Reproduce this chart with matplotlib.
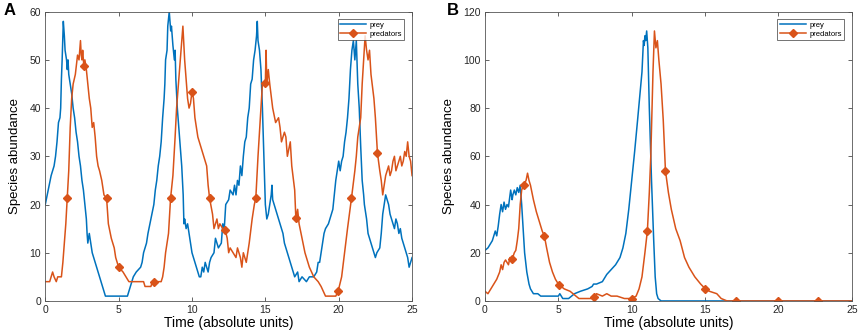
import numpy as np
import matplotlib.pyplot as plt

plt.rcParams['font.family'] = ['Liberation Sans', 'DejaVu Sans']

# ---- panel A data ----
a_prey_t = [0, 0.2, 0.4, 0.6, 0.7, 0.8, 0.9, 1.0, 1.05, 1.1, 1.15, 1.23, 1.3, 1.35, 1.45, 1.5, 1.55, 1.6,
            1.7, 1.8, 1.9, 2.0, 2.1, 2.2, 2.3, 2.4, 2.5, 2.6, 2.7, 2.8, 2.85, 2.9, 3.0, 3.1, 3.2, 3.3,
            3.4, 3.5, 3.6, 3.7, 3.8, 3.9, 4.0, 4.1, 5.6, 5.7, 5.8, 5.9, 6.0, 6.2, 6.5, 6.6, 6.7, 6.9,
            7.0, 7.2, 7.4, 7.5, 7.6, 7.7, 7.8, 7.9, 8.0, 8.1, 8.15, 8.2, 8.3, 8.35, 8.45, 8.5, 8.55,
            8.6, 8.7, 8.8, 8.85, 8.9, 9.0, 9.1, 9.2, 9.3, 9.4, 9.45, 9.5, 9.6, 9.7, 9.8, 9.9, 10.0,
            10.1, 10.2, 10.3, 10.4, 10.5, 10.6, 10.7, 10.8, 10.9, 11.0, 11.1, 11.2, 11.3, 11.5, 11.6,
            11.7, 11.8, 12.0, 12.1, 12.2, 12.3, 12.5, 12.6, 12.8, 12.9, 13.0, 13.1, 13.2, 13.3, 13.4,
            13.5, 13.6, 13.7, 13.8, 13.9, 14.0, 14.1, 14.2, 14.3, 14.4, 14.45, 14.5, 14.6, 14.7, 14.8,
            14.9, 15.0, 15.1, 15.2, 15.3, 15.4, 15.45, 15.5, 15.6, 15.7, 15.8, 16.0, 16.1, 16.2, 16.3,
            16.4, 16.5, 16.6, 16.7, 16.8, 16.9, 17.0, 17.2, 17.3, 17.5, 17.8, 18.0, 18.3, 18.5, 18.6,
            18.7, 18.8, 18.9, 19.0, 19.1, 19.3, 19.5, 19.6, 19.7, 19.8, 19.9, 20.0, 20.1, 20.2, 20.3,
            20.4, 20.5, 20.6, 20.7, 20.8, 20.9, 21.0, 21.1, 21.2, 21.3, 21.4, 21.5, 21.6, 21.7, 21.75,
            21.9, 22.0, 22.1, 22.2, 22.4, 22.5, 22.6, 22.8, 22.9, 23.0, 23.1, 23.2, 23.3, 23.4, 23.5,
            23.6, 23.7, 23.8, 23.9, 24.0, 24.1, 24.2, 24.3, 24.4, 24.5, 24.6, 24.7, 24.8, 24.9, 25.0]
a_prey_y = [20, 23, 26, 28, 30, 33, 37, 38, 40, 46, 50, 58, 55, 52, 50, 48, 50, 47,
            45, 43, 40, 38, 35, 33, 30, 28, 25, 23, 20, 17, 14, 12, 14, 12, 10, 9,
            8, 7, 6, 5, 4, 3, 2, 1, 1, 2, 3, 4, 5, 6, 7, 8, 10, 12,
            14, 17, 20, 23, 25, 28, 30, 33, 38, 42, 45, 50, 52, 57, 60, 58, 56,
            57, 53, 50, 52, 46, 40, 36, 32, 28, 22, 16, 17, 15, 16, 14, 12, 10,
            9, 8, 7, 6, 5, 5, 7, 6, 8, 7, 6, 8, 9, 10, 13,
            12, 11, 12, 16, 15, 20, 21, 23, 22, 24, 22, 25, 24, 28, 26,
            30, 33, 34, 38, 40, 45, 46, 50, 52, 55, 58, 54, 52, 48, 40,
            30, 20, 17, 18, 20, 22, 24, 21, 20, 19, 18, 16, 15, 14, 12,
            11, 10, 9, 8, 7, 6, 5, 6, 4, 5, 4, 5, 5, 6, 8,
            8, 10, 12, 14, 15, 16, 18, 19, 22, 25, 27, 29, 27, 29, 30,
            33, 35, 38, 42, 48, 52, 54, 50, 54, 45, 40, 32, 25, 22, 20,
            17, 14, 13, 12, 10, 9, 10, 11, 14, 18, 20, 22, 21, 20, 18,
            17, 16, 15, 17, 16, 14, 15, 13, 12, 11, 10, 9, 7, 8, 9]

a_pred_t = [0, 0.3, 0.4, 0.5, 0.6, 0.75, 0.85, 0.9, 1.1, 1.2, 1.3, 1.4, 1.5, 1.6, 1.7, 1.8, 1.9,
            2.05, 2.2, 2.3, 2.4, 2.45, 2.5, 2.55, 2.63, 2.7, 2.8, 2.9, 3.0, 3.1, 3.2, 3.3, 3.4, 3.5,
            3.6, 3.7, 3.85, 4.0, 4.18, 4.3, 4.5, 4.7, 4.8, 5.0, 5.3, 5.5, 5.7, 6.0, 6.7, 6.8, 7.2,
            7.3, 7.43, 7.7, 7.9, 8.0, 8.1, 8.2, 8.3, 8.4, 8.54, 8.7, 8.85, 8.95, 9.1, 9.2, 9.38, 9.5,
            9.6, 9.7, 9.8, 9.9, 10.0, 10.1, 10.2, 10.4, 10.6, 10.8, 11.0, 11.1, 11.2, 11.4, 11.5,
            11.7, 11.8, 11.9, 12.1, 12.26, 12.4, 12.5, 12.6, 12.8, 13.0, 13.1, 13.3, 13.4, 13.5,
            13.7, 13.9, 14.1, 14.25, 14.35, 14.5, 14.7, 14.8, 15.0, 15.05, 15.1, 15.2, 15.3, 15.5,
            15.7, 15.9, 16.0, 16.1, 16.3, 16.4, 16.5, 16.7, 16.8, 17.0, 17.08, 17.2, 17.3, 17.5,
            17.7, 18.0, 18.3, 18.6, 18.8, 19.1, 19.8, 19.96, 20.2, 20.4, 20.6, 20.87, 21.1, 21.2,
            21.3, 21.5, 21.6, 21.8, 21.9, 22.0, 22.1, 22.2, 22.4, 22.5, 22.64, 22.8, 22.9, 23.0,
            23.1, 23.2, 23.3, 23.4, 23.5, 23.6, 23.7, 23.8, 23.9, 24.0, 24.1, 24.2, 24.3, 24.4,
            24.5, 24.6, 24.7, 24.8, 24.9, 25.0]
a_pred_y = [4, 4, 5, 6, 5, 4, 5, 5, 5, 8, 12, 16, 21.3, 27, 36, 42, 45,
            47, 51, 50, 54, 51, 50, 52, 48.7, 50, 48, 45, 42, 40, 36, 37, 34, 30,
            28, 27, 25, 22, 21.3, 16, 13, 11, 9, 7, 6, 5, 4, 4, 4, 3, 3,
            4, 4, 4, 4, 5, 7, 10, 12, 14, 21.3, 26, 34, 40, 46, 50, 57, 50,
            46, 42, 40, 41, 43.4, 42, 38, 34, 32, 30, 28, 24, 21.3, 18, 15,
            17, 15, 16, 15, 14.8, 13, 10, 11, 10, 9, 11, 9, 7, 10,
            8, 12, 17, 20, 21.3, 30, 40, 45, 45.3, 52, 45, 48, 45, 40,
            37, 38, 36, 33, 35, 34, 30, 33, 28, 23, 17.1, 19, 16, 13,
            10, 7, 5, 4, 3, 1, 1, 2, 5, 10, 15, 21.3, 27, 30,
            34, 38, 45, 55, 52, 50, 52, 47, 42, 38, 30.7, 27, 25, 22,
            24, 26, 27, 28, 26, 27, 29, 30, 27, 28, 29, 30, 28, 29,
            31, 30, 33, 30, 29, 26]
a_marks = [1.5, 2.63, 4.18, 5.0, 7.43, 8.54, 10.0, 11.2, 12.26, 14.35, 15.0, 17.08, 19.96, 20.87, 22.64]

# ---- panel B data ----
b_prey_t = [0, 0.2, 0.3, 0.5, 0.6, 0.7, 0.8, 0.9, 1.0, 1.1, 1.2, 1.3, 1.4, 1.5, 1.6, 1.75, 1.85,
            1.9, 2.0, 2.1, 2.2, 2.3, 2.4, 2.5, 2.6, 2.7, 2.85, 3.0, 3.1, 3.3, 3.6, 3.8, 5.0, 5.1,
            5.3, 5.7, 5.9, 6.1, 6.5, 7.0, 7.3, 7.4, 7.6, 8.0, 8.2, 8.3, 8.6, 8.9, 9.2, 9.4, 9.6,
            9.8, 10.0, 10.2, 10.4, 10.55, 10.7, 10.8, 10.85, 10.9, 10.95, 11.02, 11.1, 11.2, 11.35,
            11.5, 11.6, 11.7, 11.8, 12.0, 25.0]
b_prey_y = [21, 22, 23, 25, 27, 29, 27, 31, 36, 40, 37, 41, 38, 40, 39, 46, 42,
            44, 46, 44, 47, 45, 48, 40, 30, 20, 12, 7, 5, 3, 3, 2, 2, 3,
            1, 1, 2, 3, 4, 5, 6, 7, 7, 8, 10, 11, 13, 15, 18, 22, 28,
            38, 50, 62, 75, 85, 95, 108, 106, 110, 108, 112, 105, 80, 50,
            25, 10, 3, 1, 0, 0]

b_pred_t = [0, 0.2, 0.4, 0.6, 0.8, 1.0, 1.1, 1.2, 1.3, 1.4, 1.6, 1.7, 1.84, 2.0, 2.1, 2.2, 2.3,
            2.4, 2.5, 2.64, 2.8, 2.9, 3.0, 3.1, 3.3, 3.5, 3.7, 3.9, 4.05, 4.2, 4.4, 4.6, 4.8, 5.02,
            5.4, 5.8, 6.0, 6.2, 6.4, 7.3, 7.45, 7.6, 8.0, 8.3, 8.6, 9.0, 9.5, 10.0, 10.3, 10.5,
            10.7, 10.9, 11.07, 11.2, 11.3, 11.45, 11.55, 11.65, 11.75, 11.85, 12.0, 12.15, 12.3,
            12.5, 12.7, 13.0, 13.3, 13.6, 13.9, 14.3, 14.7, 15.02, 15.3, 15.8, 16.1, 16.5, 17.1,
            20.0, 22.68, 25.0]
b_pred_y = [4, 3, 5, 7, 9, 12, 15, 13, 16, 17, 15, 18, 17.2, 20, 21, 25, 30,
            40, 46, 48.3, 50, 53, 50, 48, 42, 37, 33, 29, 26.9, 22, 16, 12, 9, 6.8,
            5, 4, 3, 2, 1, 1, 1.5, 3, 2, 3, 2, 2, 1, 1, 2, 5,
            10, 20, 29.2, 45, 60, 95, 112, 105, 108, 100, 90, 75, 54,
            45, 38, 30, 25, 18, 14, 10, 7, 5, 4, 3, 1, 0, 0,
            0, 0, 0]
b_marks = [1.84, 2.64, 4.05, 5.02, 7.45, 10.0, 11.07, 12.3, 15.02, 17.1, 20.0, 22.68]

xticks = [0, 5, 10, 15, 20, 25]
a_yticks = [0, 10, 20, 30, 40, 50, 60]
b_yticks = [0, 20, 40, 60, 80, 100, 120]

blue = '#0072BD'
orange = '#D95319'


def mark_idx(t, marks):
    t = np.asarray(t)
    return [int(np.argmin(np.abs(t - m))) for m in marks]


def draw(ax, prey_t, prey_y, pred_t, pred_y, marks, yticks):
    ax.plot(prey_t, prey_y, color=blue, lw=1.1, label='prey')
    ax.plot(pred_t, pred_y, color=orange, lw=1.1, marker='D', markersize=4.2,
            markevery=mark_idx(pred_t, marks), label='predators')
    ax.set_xlim(0, 25)
    ax.set_ylim(yticks[0], yticks[-1])
    ax.set_xticks(xticks)
    ax.set_yticks(yticks)
    ax.tick_params(direction='in', top=True, right=True, length=3, width=0.5,
                   labelsize=7.5, colors='#262626', pad=3)
    for s in ax.spines.values():
        s.set_linewidth(0.6)
        s.set_color('#555555')
    ax.set_xlabel('Time (absolute units)', fontsize=10, labelpad=1)
    ax.set_ylabel('Species abundance', fontsize=9.5, labelpad=6)
    leg = ax.legend(loc='upper right', fontsize=5.5, handlelength=3.4, frameon=True,
                    fancybox=False, borderaxespad=1.0, borderpad=0.3, labelspacing=0.2,
                    handletextpad=0.5)
    leg.get_frame().set_edgecolor('#333333')
    leg.get_frame().set_linewidth(0.6)


fig = plt.figure(figsize=(8.59, 3.34), dpi=100)
ax1 = fig.add_axes([0.0527, 0.099, 0.427, 0.866])
ax2 = fig.add_axes([0.5646, 0.099, 0.427, 0.866])

draw(ax1, a_prey_t, a_prey_y, a_pred_t, a_pred_y, a_marks, a_yticks)
draw(ax2, b_prey_t, b_prey_y, b_pred_t, b_pred_y, b_marks, b_yticks)

fig.text(0.004, 0.99, 'A', fontsize=12, fontweight='bold', va='top')
fig.text(0.52, 0.99, 'B', fontsize=12, fontweight='bold', va='top')

fig.savefig('out.png', dpi=100)
